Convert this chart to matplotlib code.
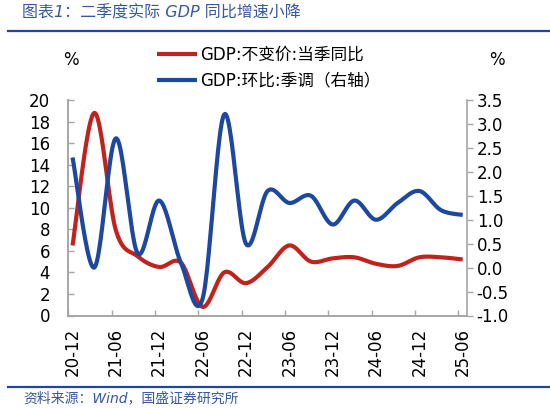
import matplotlib.pyplot as plt
import numpy as np
from matplotlib.lines import Line2D

# quarterly data, 2020Q4 - 2025Q2
quarters = ['20-12', '21-03', '21-06', '21-09', '21-12', '22-03', '22-06', '22-09', '22-12',
            '23-03', '23-06', '23-09', '23-12', '24-03', '24-06', '24-09', '24-12', '25-03', '25-06']
gdp_yoy = [6.5, 18.8, 7.9, 5.5, 4.5, 4.9, 0.8, 4.0, 3.0,
           4.5, 6.5, 5.0, 5.3, 5.4, 4.8, 4.6, 5.4, 5.4, 5.2]
gdp_qoq = [2.3, 0.0, 2.7, 0.3, 1.4, 0.1, -0.65, 3.2, 0.5,
           1.6, 1.35, 1.5, 0.9, 1.4, 1.0, 1.35, 1.6, 1.2, 1.1]
label_yoy = 'GDP:不变价:当季同比'
label_qoq = 'GDP:环比:季调（右轴）'

plt.rcParams['font.family'] = ['DejaVu Sans', 'Noto Sans CJK SC']

RED = '#C0231B'
BLUE = '#1D48A0'
GREY = '#A6A6A6'
TITLE_BLUE = '#3558A0'


# excel-like smoothed line (catmull-rom through the points)
def smooth(x, y, n=24):
    x = np.asarray(x, float)
    y = np.asarray(y, float)
    xs, ys = [], []
    for i in range(len(x) - 1):
        i0 = max(i - 1, 0)
        i3 = min(i + 2, len(x) - 1)
        t = np.linspace(0, 1, n, endpoint=False)
        h00 = 2 * t**3 - 3 * t**2 + 1
        h10 = t**3 - 2 * t**2 + t
        h01 = -2 * t**3 + 3 * t**2
        h11 = t**3 - t**2
        for arr, out in ((x, xs), (y, ys)):
            m1 = (arr[i + 1] - arr[i0]) / 2
            m2 = (arr[i3] - arr[i]) / 2
            out.append(h00 * arr[i] + h10 * m1 + h01 * arr[i + 1] + h11 * m2)
    xs.append([x[-1]])
    ys.append([y[-1]])
    return np.concatenate(xs), np.concatenate(ys)


fig = plt.figure(figsize=(5.5, 4.08), dpi=100)
ax = fig.add_axes([68 / 550, 1 - 315.5 / 408, (467 - 68) / 550, (315.5 - 100) / 408])
ax2 = ax.twinx()

xi = np.arange(len(quarters))
sx, sy = smooth(xi, gdp_yoy)
l1, = ax.plot(sx, sy, color=RED, lw=3, solid_capstyle='butt')
sx, sy = smooth(xi, gdp_qoq)
l2, = ax2.plot(sx, sy, color=BLUE, lw=3, solid_capstyle='butt')

ax.set_xlim(-0.21, 18.2)
ax.set_ylim(0, 20)
ax2.set_ylim(-1, 3.5)
ax.set_yticks(np.arange(0, 21, 2))
ax2.set_yticks(np.arange(-1, 3.51, 0.5))
ax2.set_yticklabels(['%.1f' % v for v in np.arange(-1, 3.51, 0.5)])

ax.set_xticks(xi[::2])
ax.set_xticklabels(quarters[::2], rotation=90)
ax.set_xticks(xi[::2] - 0.2, minor=True)
ax.tick_params(axis='x', which='major', length=0, pad=9, labelsize=12)
ax.tick_params(axis='x', which='minor', direction='in', length=4, color=GREY, width=1)
ax.tick_params(axis='y', direction='in', length=4, color=GREY, width=1, pad=13, labelsize=12)
ax2.tick_params(axis='y', direction='out', length=4, color=GREY, width=1, pad=3, labelsize=12)

for a in (ax, ax2):
    for s in a.spines.values():
        s.set_color(GREY)
        s.set_linewidth(1.2)
    a.spines['top'].set_visible(False)
ax.spines['right'].set_visible(False)

fig.text(71 / 550, 1 - 60 / 408, '%', fontsize=12, ha='center', va='center')
fig.text(497 / 550, 1 - 60 / 408, '%', fontsize=12, ha='center', va='center')

fig.legend([l1, l2], [label_yoy, label_qoq], loc='upper left',
           bbox_to_anchor=(157 / 550, 1 - 46 / 408), frameon=False, fontsize=12,
           handlelength=2.4, handletextpad=0.2, labelspacing=0.45,
           borderpad=0, borderaxespad=0)

# title, rules and source
fig.text(22 / 550, 1 - 13 / 408, '图表1：二季度实际 GDP 同比增速小降', fontsize=11.5,
         color=TITLE_BLUE, ha='left', va='center', style='italic')
fig.add_artist(Line2D([8 / 550, 1], [1 - 31 / 408] * 2, color=BLUE, lw=1.6))
fig.add_artist(Line2D([8 / 550, 1], [1 - 387 / 408] * 2, color=BLUE, lw=1.6))
fig.text(23 / 550, 1 - 398 / 408, '资料来源：Wind，国盛证券研究所', fontsize=10,
         color=TITLE_BLUE, ha='left', va='center', style='italic')

fig.savefig('out.png', dpi=100)
